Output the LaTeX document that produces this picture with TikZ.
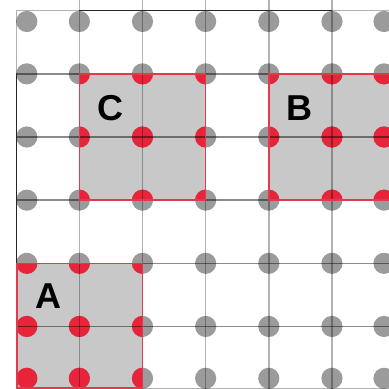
\documentclass[tikz,border=0pt]{standalone}
\usepackage{fontspec}
\setmainfont{Liberation Sans}
\definecolor{dotgray}{RGB}{155,155,155}
\definecolor{dotred}{RGB}{232,36,58}
\definecolor{boxfill}{RGB}{200,200,200}
\definecolor{boxline}{RGB}{220,60,75}
\tikzset{
  cellbox/.style={fill=boxfill},
  cellborder/.style={draw=boxline, line width=1.5pt},
  vline/.style={draw=black, opacity=0.3, line width=1.4pt},
  hline/.style={draw=black, opacity=0.45, line width=1.4pt},
  darkline/.style={draw=black!85, line width=1.4pt},
  lbl/.style={font=\bfseries\fontsize{36}{36}\selectfont, text=black, inner sep=0pt}
}
\begin{document}
\begin{tikzpicture}[x=1pt,y=-1pt]
\useasboundingbox (0,0) rectangle (389,389);
\clip (0,0) rectangle (389,389);
\def\dxs{26.8,79.35,142.5,205.65,268.8,331.95,384}
\def\dys{21.5,73.85,137,200.15,263.3,326.45,378.3}
% boxes
\fill[cellbox] (79.35,73.85) rectangle (205.65,200.15);
\fill[cellbox] (268.8,73.85) rectangle (395.1,200.15);
\fill[cellbox] (16.2,263.3) rectangle (142.5,389.6);
% gray dots
\foreach \x in \dxs {\foreach \y in \dys {\fill[dotgray] (\x,\y) circle (10.6);}}
% red dots clipped to boxes
\begin{scope}
\clip (79.35,73.85) rectangle (205.65,200.15) (268.8,73.85) rectangle (395.1,200.15) (16.2,263.3) rectangle (142.5,389.6);
\foreach \x in \dxs {\foreach \y in \dys {\fill[dotred] (\x,\y) circle (10.6);}}
\end{scope}
% grid lines
\foreach \x in {79.35,142.5,205.65,268.8,331.95} {\draw[vline] (\x,0) -- (\x,389);}
\draw[vline] (16.2,10.7) -- (16.2,73.85);
\foreach \y in {73.85,137,200.15,263.3,326.45} {\draw[hline] (16.2,\y) -- (395,\y);}
\draw[vline] (16.2,10.7) -- (79.35,10.7);
\draw[vline] (331.95,10.7) -- (395,10.7);
\draw[vline] (16.2,388.5) -- (395,388.5);
\draw[darkline] (79.35,10.7) -- (331.95,10.7);
\draw[darkline] (16.2,73.85) -- (16.2,263.3);
% box borders
\draw[cellborder] (79.35,73.85) rectangle (205.65,200.15);
\draw[cellborder] (268.8,73.85) rectangle (395.1,200.15);
\draw[cellborder] (16.9,263.3) rectangle (142.5,388);
% labels
\node[lbl] (labC) at (110.5,108) {C};
\node[lbl] (labB) at (299,108) {B};
\node[lbl] (labA) at (48.3,296) {A};
\end{tikzpicture}
\end{document}
